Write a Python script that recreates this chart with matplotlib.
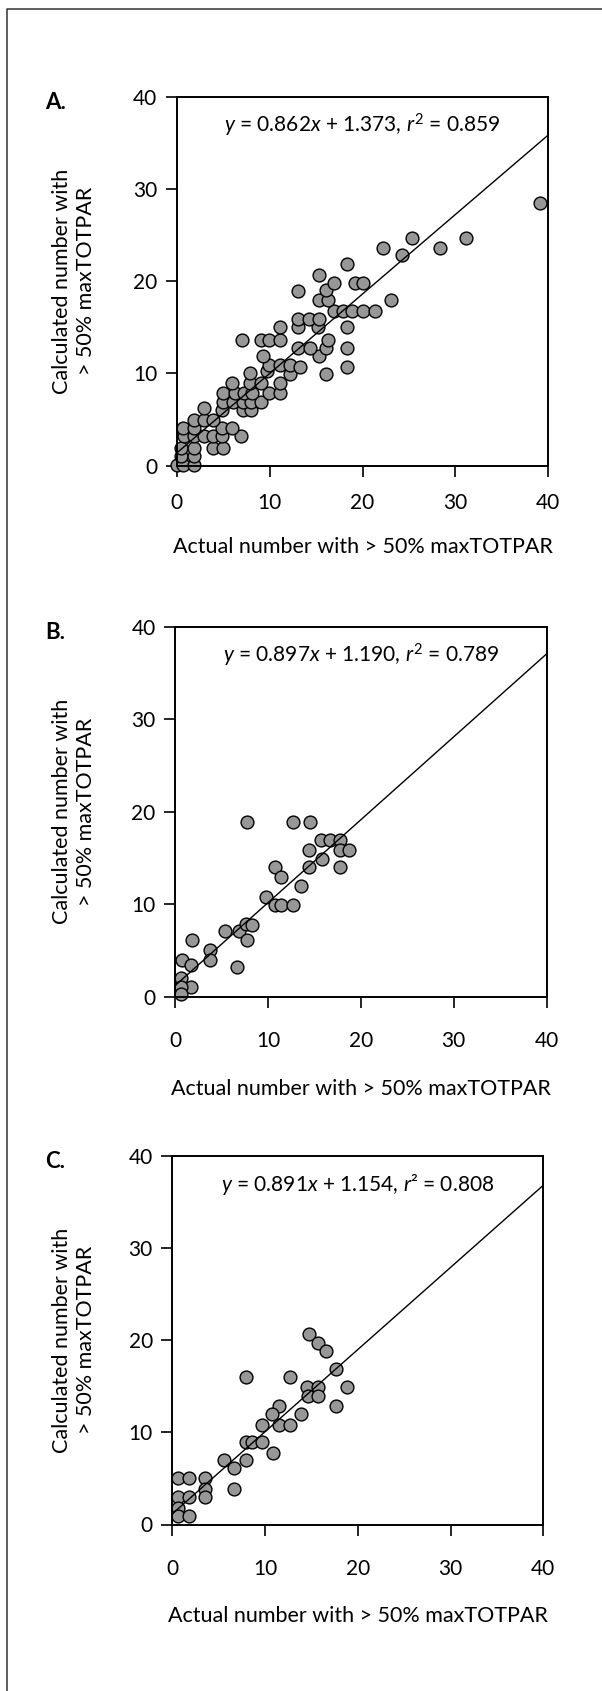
import numpy as np
import matplotlib
matplotlib.use('Agg')
import matplotlib.pyplot as plt
from matplotlib.lines import Line2D

plt.rcParams['font.family'] = ['Lato', 'DejaVu Sans']
plt.rcParams['mathtext.fontset'] = 'custom'
plt.rcParams['mathtext.rm'] = 'Lato'
plt.rcParams['mathtext.it'] = 'Lato:italic'

# Panel A
a_actual = [0, 0.7, 1.9, 0.5, 1.9, 0.5, 1.9, 3.9, 5.0, 0.8, 1.9, 2.9, 3.9, 4.9, 6.9,
            0.7, 1.9, 4.9, 6.0, 1.9, 2.9, 3.9, 2.9, 4.9, 7.1, 8.0, 5.0, 6.1, 7.1, 8.0,
            9.1, 5.0, 6.3, 7.2, 8.1, 9.9, 11.1, 6.0, 7.9, 9.1, 11.1, 7.9, 9.7, 12.2, 16.1,
            9.9, 11.1, 12.2, 13.3, 18.3, 9.3, 15.3, 13.1, 14.3, 16.1, 18.3, 7.0, 9.1, 9.9,
            11.1, 16.3, 11.1, 13.1, 15.2, 18.3, 13.1, 14.2, 15.3, 16.9, 17.9, 18.9, 20.0,
            21.3, 15.3, 16.3, 23.1, 13.1, 16.1, 16.9, 19.2, 20.0, 15.3, 18.3, 24.3, 22.2,
            28.3, 25.3, 31.1, 39.1]
a_calc = [0.1, 0.1, 0.1, 1.0, 1.0, 1.9, 1.9, 1.9, 1.9, 3.2, 3.2, 3.2, 3.2, 3.2, 3.2,
          4.1, 4.1, 4.1, 4.1, 5.0, 5.0, 5.0, 6.3, 6.0, 6.0, 6.0, 6.9, 6.9, 6.9, 6.9,
          6.9, 7.9, 7.9, 7.9, 7.9, 7.9, 7.9, 9.0, 9.0, 9.0, 9.0, 10.0, 10.3, 9.9, 9.9,
          10.9, 10.9, 10.9, 10.7, 10.7, 11.9, 11.9, 12.8, 12.8, 12.8, 12.8, 13.6, 13.6, 13.6,
          13.6, 13.6, 15.0, 15.0, 15.0, 15.0, 15.9, 15.9, 15.9, 16.8, 16.8, 16.8, 16.8,
          16.8, 18.0, 18.0, 18.0, 18.9, 19.0, 19.8, 19.8, 19.8, 20.7, 21.9, 22.8, 23.6,
          23.6, 24.7, 24.7, 28.5]
a_fit = (0.862, 1.373)

# Panel B
b_actual = [7.8, 12.7, 14.5, 15.7, 16.7, 17.8, 14.4, 17.8, 18.7, 15.8, 14.4, 17.8,
            10.8, 11.4, 13.6, 9.8, 10.8, 11.4, 12.7, 5.4, 6.9, 7.6, 8.3, 7.7, 1.8,
            3.8, 3.8, 0.8, 1.7, 6.7, 0.65, 1.7, 0.65, 0.65]
b_calc = [18.9, 18.9, 18.9, 16.9, 16.9, 16.9, 15.9, 15.9, 15.9, 14.9, 14.0, 14.0,
          14.0, 12.9, 12.0, 10.8, 9.9, 9.9, 9.9, 7.1, 7.1, 7.9, 7.75, 6.1, 6.1,
          5.0, 4.0, 4.0, 3.4, 3.2, 2.0, 1.1, 1.1, 0.3]
b_fit = (0.897, 1.190)

# Panel C
c_actual = [14.7, 15.7, 16.6, 17.6, 7.9, 12.7, 14.5, 15.7, 18.8, 14.6, 15.7, 17.6,
            11.5, 10.7, 13.9, 9.7, 11.5, 12.7, 7.9, 8.6, 9.7, 10.9, 5.6, 7.9, 6.6,
            6.6, 0.6, 1.8, 3.5, 3.5, 0.6, 1.8, 3.5, 0.6, 0.6, 1.8]
c_calc = [20.7, 19.7, 18.8, 16.9, 16.0, 16.0, 14.9, 14.9, 14.9, 13.9, 13.9, 12.85,
          12.85, 12.0, 12.0, 10.8, 10.8, 10.8, 9.0, 9.0, 9.0, 7.8, 7.0, 7.0, 6.1,
          3.9, 5.0, 5.0, 5.0, 3.9, 3.0, 3.0, 3.0, 1.75, 0.9, 0.9]
c_fit = (0.891, 1.154)

letters = ['A.', 'B.', 'C.']
equations = [r'$y$ = 0.862$x$ + 1.373, $r^2$ = 0.859',
             r'$y$ = 0.897$x$ + 1.190, $r^2$ = 0.789',
             r'$y$ = 0.891$x$ + 1.154, $r$² = 0.808']
ticks = [0, 10, 20, 30, 40]
xlabel = 'Actual number with > 50% maxTOTPAR'
ylabel = 'Calculated number with\n> 50% maxTOTPAR'

W, H = 602, 1691
fig = plt.figure(figsize=(W / 100, H / 100), dpi=100)

# outer frame (left and top edges visible)
fig.add_artist(Line2D([7 / W, 7 / W, 1.0], [0.0, 1 - 9 / H, 1 - 9 / H],
                      color='#333333', lw=1.1, transform=fig.transFigure))

# axes boxes in pixels: left, top, right, bottom
boxes = [(176.7, 96.7, 548.3, 465.7),
         (175.0, 626.7, 546.7, 996.7),
         (172.3, 1155.7, 543.3, 1524.5)]
# x tick label pad (pt) and x label distance below the axis (px)
xtick_pad = [12, 17, 17]
xlab_gap = [81, 92, 92]

data = [(a_actual, a_calc, a_fit), (b_actual, b_calc, b_fit), (c_actual, c_calc, c_fit)]

fs = 15.5
for (l, t, r, b), pad, gap, (xs, ys, fit), letter, eq in zip(boxes, xtick_pad, xlab_gap,
                                                             data, letters, equations):
    ax = fig.add_axes([l / W, 1 - b / H, (r - l) / W, (b - t) / H])
    ax.scatter(xs, ys, s=85, facecolor='#979797', edgecolor='black', linewidth=1.0,
               zorder=2, clip_on=False)
    xx = np.array([0, 40])
    ax.plot(xx, fit[0] * xx + fit[1], color='black', lw=1.0, zorder=3)
    ax.set_xlim(0, 40)
    ax.set_ylim(0, 40)
    ax.set_xticks(ticks)
    ax.set_yticks(ticks)
    ax.tick_params(direction='out', length=8, width=1.2, labelsize=15, pad=6)
    ax.tick_params(axis='x', pad=pad)
    for sp in ax.spines.values():
        sp.set_linewidth(1.4)
    ax.text(0.5, 0.923, eq, transform=ax.transAxes, ha='center', va='center', fontsize=15)
    w = r - l
    h = b - t
    ax.text(0.5, -gap / h, xlabel, transform=ax.transAxes, ha='center', va='center', fontsize=fs)
    ax.text((74 - l) / w, 0.5, ylabel, transform=ax.transAxes, ha='center', va='center',
            rotation=90, multialignment='center', fontsize=fs, linespacing=1.25)
    ax.text((45 - l) / w, 1 - 6 / h, letter, transform=ax.transAxes, ha='left', va='center',
            fontsize=16, fontweight='bold')

fig.savefig('out.png', dpi=100)
